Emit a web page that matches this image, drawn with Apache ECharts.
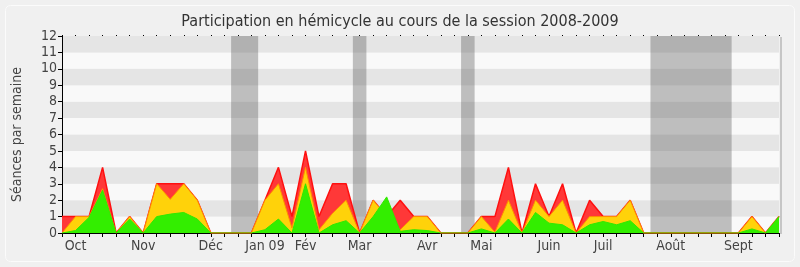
<!DOCTYPE html>
<html>
<head>
<meta charset="utf-8">
<script src="https://cdn.jsdelivr.net/npm/echarts@6/dist/echarts.min.js"></script>
<style>
html,body{margin:0;padding:0;background:#f0f0f0;}
#c{width:800px;height:267px;}
</style>
</head>
<body>
<div id="c"></div>
<script>
// Weekly points (index 0..53), session 2008-2009
var weekIdx = [];
for (var k = 0; k <= 53; k++) weekIdx.push(k);
var monthLabelIdx = [1, 6, 11, 15, 18, 22, 27, 31, 36, 40, 45, 50];
var monthLabels = ['Oct', 'Nov', 'Déc', 'Jan 09', 'Fév', 'Mar', 'Avr', 'Mai', 'Juin', 'Juil', 'Août', 'Sept'];
var yTicks = [0,1,2,3,4,5,6,7,8,9,10,11,12];
// vacation ranges (in week index units)
var vacStart = [12.5, 21.5, 29.5, 43.5];
var vacEnd   = [14.5, 22.5, 30.5, 49.5];

var redVals = [1,1,1,4,0,1,0,3,3,3,2,0,0,0,0,2,4,1,5,1,3,3,0,2,1,2,1,1,0,0,0,1,1,4,0,3,1,3,0,2,1,1,2,0,0,0,0,0,0,0,0,1,0,1];
var yellowVals = [0,1,1,2.7,0,1,0,3,2.05,3,2,0,0,0,0,2,3,0.3,4,0.2,1.2,2,0,2,1,0.2,1,1,0,0,0,1,0.05,2,0,2,1,2,0,1,1,1,2,0,0,0,0,0,0,0,0,1,0,1];
var greenVals = [0,0.15,0.95,2.6,0,0.85,0,1.0,1.15,1.25,0.85,0,0,0,0,0.2,0.85,0,3,0,0.5,0.75,0,1.0,2.2,0.1,0.2,0.15,0,0,0,0.25,0,0.85,0,1.25,0.6,0.5,0,0.5,0.7,0.5,0.75,0,0,0,0,0,0,0,0,0.25,0,1];

function pairs(vals){ return weekIdx.map(function(i){ return [i, vals[i]]; }); }
var labelMap = {};
monthLabelIdx.forEach(function(v, j){ labelMap[v] = monthLabels[j]; });

var FONT = '"DejaVu Sans Condensed","DejaVu Sans",sans-serif';
var chart = echarts.init(document.getElementById('c'), null, {renderer:'canvas'});
chart.setOption({
  animation: false,
  backgroundColor: '#f0f0f0',
  graphic: [
    {type:'rect', shape:{x:5.5,y:5.5,width:789,height:256,r:5}, style:{fill:'none', stroke:'#fbfbfb', lineWidth:1}, z:0},
    {type:'rect', shape:{x:780,y:37,width:2,height:197}, style:{fill:'#c6c6c6'}, z:0}
  ],
  title: {
    text: 'Participation en hémicycle au cours de la session 2008-2009',
    left: 'center', top: 9,
    textStyle: {fontFamily: FONT, fontSize: 16, fontWeight: 'normal', color: '#333'}
  },
  grid: {left: 62, right: 21, top: 36, bottom: 34, containLabel: false},
  xAxis: [{
    type: 'value', min: 0, max: 53, interval: 1,
    axisLine: {show: true, lineStyle: {color: '#000', width: 1}},
    axisTick: {show: true, length: 4, lineStyle: {color: '#000'}},
    axisLabel: {
      fontFamily: FONT, fontSize: 14, color: '#444', margin: 6,
      formatter: function(v){ return labelMap[v] || ''; }
    },
    splitLine: {show: false}
  }, {
    type: 'value', min: 0, max: 53, interval: 1, position: 'top',
    axisLine: {show: false},
    axisTick: {show: true, length: 1, lineStyle: {color: '#000', width: 1}},
    axisLabel: {show: false},
    splitLine: {show: false}
  }],
  yAxis: {
    type: 'value', min: 0, max: 12, interval: 1,
    name: 'Séances par semaine', nameLocation: 'middle', nameGap: 38, nameRotate: 90,
    nameTextStyle: {fontFamily: FONT, fontSize: 14, color: '#444'},
    axisLine: {show: true, lineStyle: {color: '#000', width: 1}},
    axisTick: {show: true, length: 4, lineStyle: {color: '#000'}},
    axisLabel: {fontFamily: FONT, fontSize: 14, color: '#444', margin: 5,
      formatter: function(v){ return yTicks.indexOf(v) >= 0 ? String(v) : ''; }},
    splitLine: {show: false},
    splitArea: {show: true, areaStyle: {color: ['#f9f9f9', '#e5e5e5']}}
  },
  series: [
    {type:'line', data: pairs(redVals), symbol:'none', z:2,
      lineStyle:{color:'#ff1010', width:1.5}, areaStyle:{color:'#ff3838', opacity:1}},
    {type:'line', data: pairs(yellowVals), symbol:'none', z:3,
      lineStyle:{color:'#ff9000', width:1}, areaStyle:{color:'#ffd20a', opacity:1}},
    {type:'line', data: pairs(greenVals), symbol:'none', z:4,
      lineStyle:{color:'#30e800', width:1}, areaStyle:{color:'#33ee00', opacity:1}},
    {type:'line', data: [], z:5, silent:true,
      markArea: {silent:true, itemStyle:{color:'rgba(80,80,80,0.35)'},
        data: vacStart.map(function(s, j){ return [{xAxis: s, yAxis: 0}, {xAxis: vacEnd[j], yAxis: 12}]; })}}
  ]
});
</script>
</body>
</html>
